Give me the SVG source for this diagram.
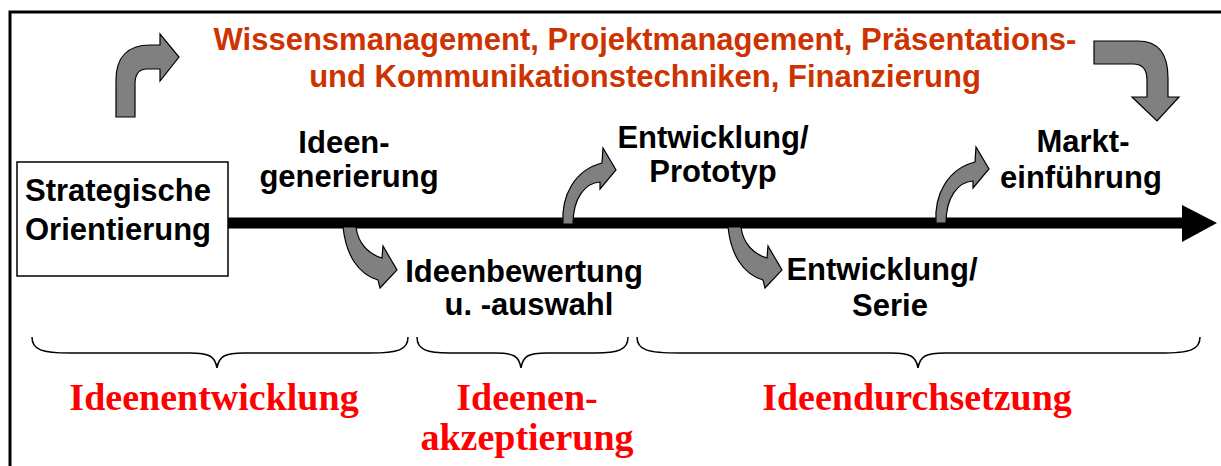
<svg xmlns="http://www.w3.org/2000/svg" width="1221" height="466" viewBox="0 0 1221 466">
<style>
.blk{font-family:"Liberation Sans",Arial,sans-serif;font-weight:bold;font-size:31px;fill:#000;text-anchor:middle}
.org{font-family:"Liberation Sans",Arial,sans-serif;font-weight:bold;font-size:31px;fill:#cc3300;text-anchor:middle}
.red{font-family:"Liberation Serif","Times New Roman",serif;font-weight:bold;font-size:38px;fill:#ff0000;text-anchor:middle}
.curv{fill:#808080;stroke:#000;stroke-width:1.2;stroke-linejoin:miter}
.brace{fill:none;stroke:#000;stroke-width:1.5}
</style>
<rect width="1221" height="466" fill="#fff"/>
<g id="frame">
<path d="M10,466 L10,12 L1221,12" fill="none" stroke="#000" stroke-width="3"/>
</g>
<g id="title">
<text class="org" x="645" y="50">Wissensmanagement, Projektmanagement, Präsentations-</text>
<text class="org" x="645" y="87">und Kommunikationstechniken, Finanzierung</text>
</g>
<g id="strategische-orientierung">
<rect x="17" y="162" width="211" height="114" fill="#fff" stroke="#000" stroke-width="1.5"/>
<text class="blk" x="118" y="201">Strategische</text>
<text class="blk" x="118" y="240">Orientierung</text>
</g>
<g id="ideengenerierung">
<text class="blk" x="344" y="153">Ideen-</text>
<text class="blk" x="349" y="187">generierung</text>
</g>
<g id="ideenbewertung">
<text class="blk" x="524" y="282">Ideenbewertung</text>
<text class="blk" x="529" y="315">u. -auswahl</text>
</g>
<g id="entwicklung-prototyp">
<text class="blk" x="713" y="148">Entwicklung/</text>
<text class="blk" x="713" y="182">Prototyp</text>
</g>
<g id="entwicklung-serie">
<text class="blk" x="882" y="280">Entwicklung/</text>
<text class="blk" x="890" y="316">Serie</text>
</g>
<g id="markteinfuehrung">
<text class="blk" x="1083" y="152">Markt-</text>
<text class="blk" x="1081" y="188">einführung</text>
</g>
<g id="phase-ideenentwicklung">
<path class="brace" d="M32,337 C32,350 42,353 70,353 L190,353 C209,353 215,356 217,368 C219,356 225,353 244,353 L370,353 C398,353 408,350 408,337"/>
<text class="red" x="214" y="410">Ideenentwicklung</text>
</g>
<g id="phase-ideenakzeptierung">
<path class="brace" d="M417,337 C417,350 427,353 450,353 L495,353 C514,353 519,356 521,368 C523,356 528,353 547,353 L595,353 C618,353 628,350 628,337"/>
<text class="red" x="527" y="410">Ideenen-</text>
<text class="red" x="527" y="450">akzeptierung</text>
</g>
<g id="phase-ideendurchsetzung">
<path class="brace" d="M637,337 C637,350 647,353 680,353 L891,353 C910,353 916,356 918,368 C920,356 926,353 945,353 L1160,353 C1190,353 1200,350 1200,337"/>
<text class="red" x="917" y="410">Ideendurchsetzung</text>
</g>
<g id="connectors">
<line x1="228" y1="223" x2="1184" y2="223" stroke="#000" stroke-width="11"/>
<polygon points="1182,205 1217,223 1182,242" fill="#000"/>
<path class="curv" d="M116,117 L116,80 C116,57 128,45 150,45 L160,45 L160,34 L179,57 L160,81 L160,69 L147,69 C139,69 135,74 135,84 L135,117 Z"/>
<path class="curv" d="M1094,41 L1138,41 C1160,41 1168,55 1168,78 L1168,97 L1179,97 L1157,121 L1132,97 L1147,97 L1147,80 C1147,70 1143,64 1133,64 L1094,64 Z"/>
<path class="curv" d="M343,227 C346,255 358,274 378,280 L380,288 L397,270 L383,246 L382,258 C368,254 358,243 356,227 Z"/>
<path class="curv" transform="translate(385,0)" d="M343,227 C346,255 358,274 378,280 L380,288 L397,270 L383,246 L382,258 C368,254 358,243 356,227 Z"/>
<path class="curv" d="M563,224 C561,195 575,170 602,163 L603,148 L616,170 L600,189 L600,182 C585,183 573,198 573,224 Z"/>
<path class="curv" transform="translate(373,-1)" d="M563,224 C561,195 575,170 602,163 L603,148 L616,170 L600,189 L600,182 C585,183 573,198 573,224 Z"/>
</g>
</svg>
